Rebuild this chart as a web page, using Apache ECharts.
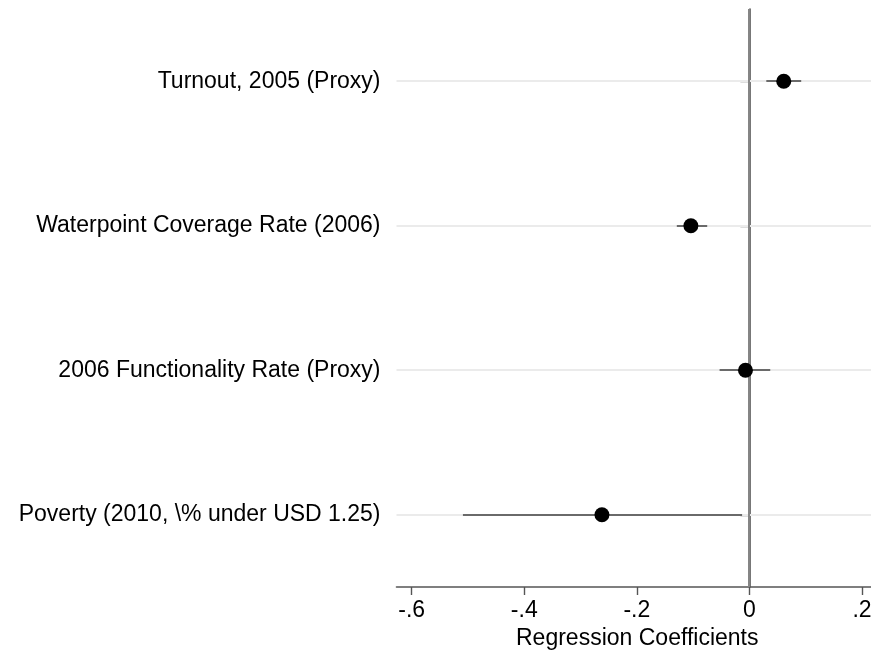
<!DOCTYPE html>
<html>
<head>
<meta charset="utf-8">
<script src="https://cdn.jsdelivr.net/npm/echarts@6/dist/echarts.min.js"></script>
<style>
  html, body { margin: 0; padding: 0; background: #fff; }
  #chart { width: 871px; height: 652px; }
</style>
</head>
<body>
<div id="chart"></div>
<script>
// Coefficient plot: point estimates with confidence intervals
const categories = [
  'Turnout, 2005 (Proxy)',
  'Waterpoint Coverage Rate (2006)',
  '2006 Functionality Rate (Proxy)',
  'Poverty (2010, \\% under USD 1.25)'
];
const estimates = [0.061, -0.104, -0.007, -0.262];
const ciLower = [0.030, -0.129, -0.053, -0.509];
const ciUpper = [0.092, -0.075, 0.037, -0.013];
const xTicks = [-0.6, -0.4, -0.2, 0, 0.2];
const xTickLabels = ['-.6', '-.4', '-.2', '0', '.2'];
const referenceX = [0];

const FONT = '"Liberation Sans", Arial, Helvetica, sans-serif';

const chart = echarts.init(document.getElementById('chart'), null, { renderer: 'canvas' });

// [category index, lower, upper]
const ciData = categories.map((c, i) => [i, ciLower[i], ciUpper[i]]);
const pointData = categories.map((c, i) => [estimates[i], i]);
const gridData = categories.map((c, i) => [0, i]);

// snap a coordinate to the pixel grid so 2px strokes stay crisp
const snap = (v) => Math.round(v);

chart.setOption({
  animation: false,
  backgroundColor: '#ffffff',
  grid: { left: 396.5, top: 9, right: 0, bottom: 65, containLabel: false, outerBoundsMode: 'none' },
  xAxis: {
    type: 'value',
    min: -0.627,
    max: 0.216,
    name: 'Regression Coefficients',
    nameLocation: 'middle',
    nameGap: 37,
    nameTextStyle: { fontFamily: FONT, fontSize: 23, color: '#000', padding: [0, 0, 0, 7] },
    axisLine: { show: true, onZero: false, lineStyle: { color: '#555', width: 1.6 } },
    axisTick: { show: true, length: 8, lineStyle: { color: '#555', width: 1.4 }, customValues: xTicks },
    axisLabel: {
      customValues: xTicks,
      margin: 12,
      fontFamily: FONT, fontSize: 23, color: '#000',
      formatter: (v) => {
        const idx = xTicks.findIndex(t => Math.abs(t - v) < 1e-9);
        return idx >= 0 ? xTickLabels[idx] : '';
      }
    },
    splitLine: { show: false }
  },
  yAxis: {
    type: 'category',
    data: categories,
    inverse: true,
    boundaryGap: true,
    axisLine: { show: true, lineStyle: { color: '#555', width: 1.6 } },
    axisTick: { show: true, alignWithLabel: true, length: 9, lineStyle: { color: '#555', width: 1.4 } },
    axisLabel: { margin: 16, fontFamily: FONT, fontSize: 23, color: '#000' },
    splitLine: { show: false }
  },
  series: [
    {
      // light horizontal gridlines at each category
      type: 'custom',
      data: gridData,
      encode: { x: 0, y: 1 },
      silent: true,
      renderItem: (params, api) => {
        const cs = params.coordSys;
        const y = snap(api.coord([0, api.value(1)])[1]);
        return {
          type: 'line',
          shape: { x1: cs.x, y1: y, x2: cs.x + cs.width, y2: y },
          style: { stroke: '#ebebeb', lineWidth: 2 }
        };
      },
      z: 1
    },
    {
      // vertical reference line at zero
      type: 'custom',
      data: referenceX.map(v => [v, 0]),
      encode: { x: 0, y: 1 },
      silent: true,
      renderItem: (params, api) => {
        const cs = params.coordSys;
        const x = snap(api.coord([api.value(0), 0])[0]);
        return {
          type: 'line',
          shape: { x1: x, y1: cs.y, x2: x, y2: cs.y + cs.height },
          style: { stroke: '#858585', lineWidth: 2 }
        };
      },
      z: 2
    },
    {
      // confidence intervals
      type: 'custom',
      data: ciData,
      encode: { y: 0, x: [1, 2] },
      silent: true,
      renderItem: (params, api) => {
        const cat = api.value(0);
        const a = api.coord([api.value(1), cat]);
        const b = api.coord([api.value(2), cat]);
        const y = snap(a[1]);
        return {
          type: 'line',
          shape: { x1: a[0], y1: y, x2: b[0], y2: y },
          style: { stroke: '#6a6a6a', lineWidth: 2 }
        };
      },
      z: 3
    },
    {
      // point estimates
      type: 'scatter',
      data: pointData,
      symbol: 'circle',
      symbolSize: 15,
      itemStyle: { color: '#000', opacity: 1 },
      z: 4
    }
  ]
});
</script>
</body>
</html>
